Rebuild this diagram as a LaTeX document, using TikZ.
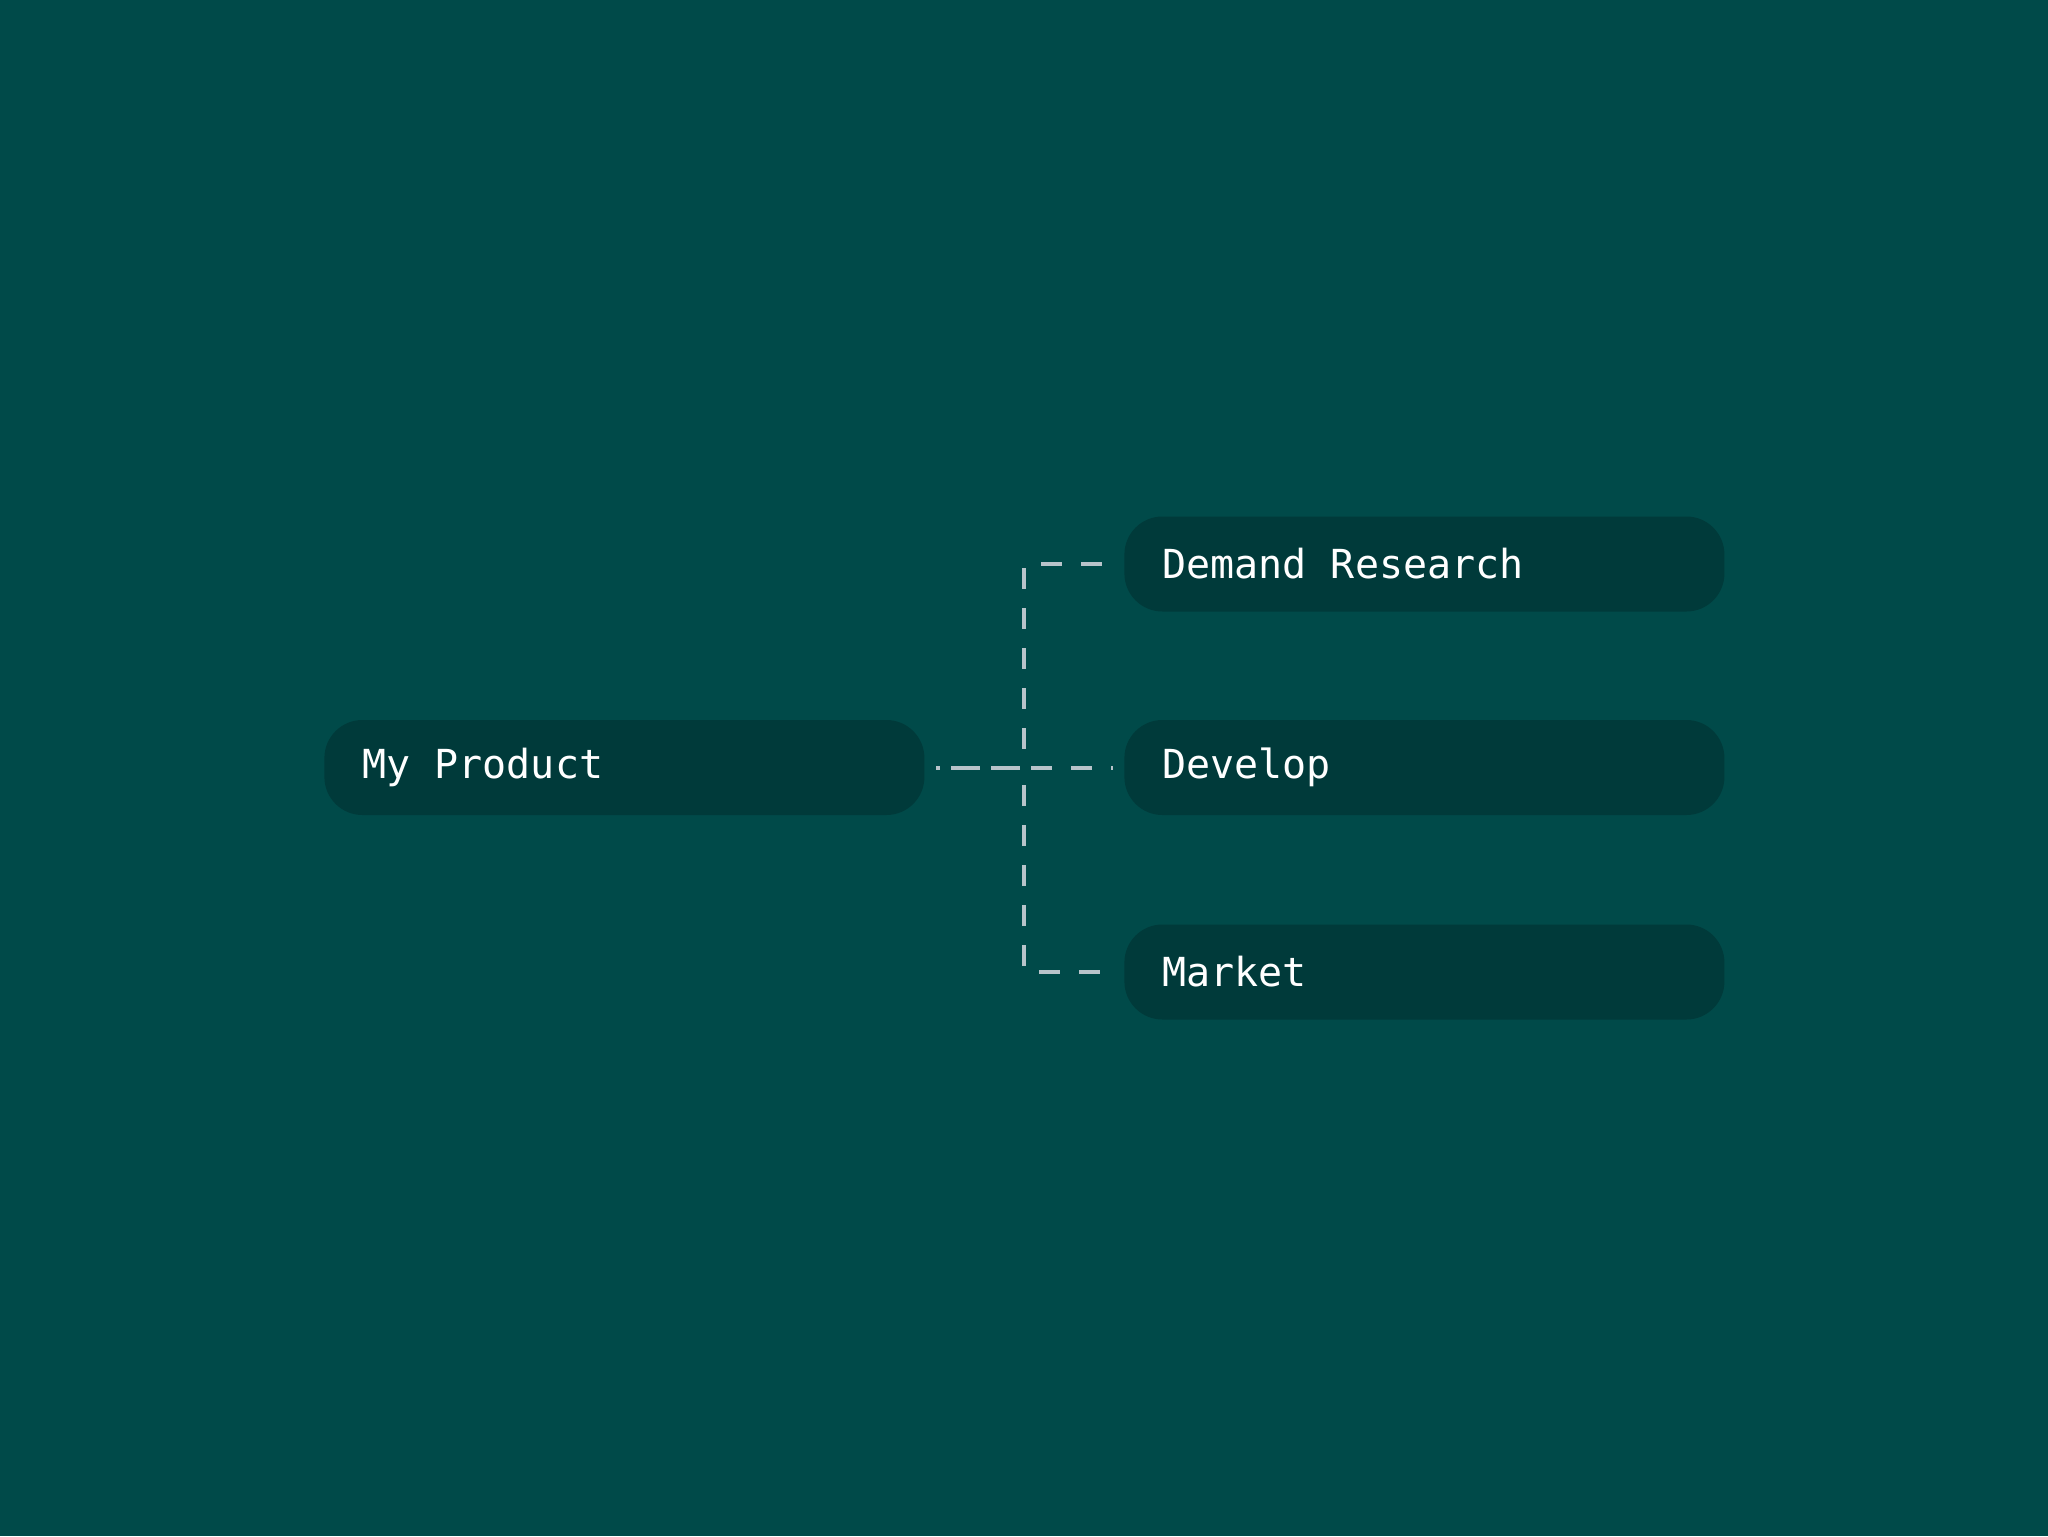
\documentclass[tikz,border=0pt]{standalone}
\usepackage{fontspec}
\newfontfamily\dmono{DejaVu Sans Mono}
\definecolor{bgc}{HTML}{004A49}
\definecolor{boxc}{HTML}{003A3A}
\definecolor{linec}{HTML}{B8C4CA}
\tikzset{
  itembox/.style={fill=boxc, draw=none, rounded corners=19pt, minimum width=300pt, minimum height=47.5pt,
    text width=262pt, align=flush left, inner xsep=19pt, inner ysep=0pt, text=white,
    font={\dmono\fontsize{20pt}{24pt}\selectfont}, anchor=west},
  conn/.style={draw=linec, line width=2pt, dash pattern=on 10.5pt off 9.5pt}
}
\begin{document}
\begin{tikzpicture}[x=0.5pt,y=-0.5pt]
\fill[bgc] (0,0) rectangle (2048,1536);
\useasboundingbox (0,0) rectangle (2048,1536);
\node[itembox] (prod) at (324,767.5) {My Product};
\node[itembox] (dem) at (1124,564) {Demand Research};
\node[itembox] (dev) at (1124,767.5) {Develop};
\node[itembox] (mkt) at (1124,972) {Market};
% connector points
\coordinate (a) at (936,767.5);
\coordinate (j) at (1024,767.5);
\coordinate (devin) at (1113,767.5);
\coordinate (vtop) at (1024,568);
\coordinate (vbot) at (1024,967);
\coordinate (vlow) at (1024,785);
\coordinate (demout) at (1041,564);
\coordinate (demin) at (1102,564);
\coordinate (mktout) at (1039,972);
\coordinate (mktin) at (1100,972);
% main trunk
\draw[conn, dash phase=12.5pt] (a) -- (devin);
\draw[conn, dash phase=8.5pt] (a) -- (j);
% vertical spine
\draw[conn] (vtop) -- (j);
\draw[conn] (vlow) -- (vbot);
% branches
\draw[conn] (demout) -- (demin);
\draw[conn] (mktout) -- (mktin);
\end{tikzpicture}
\end{document}
